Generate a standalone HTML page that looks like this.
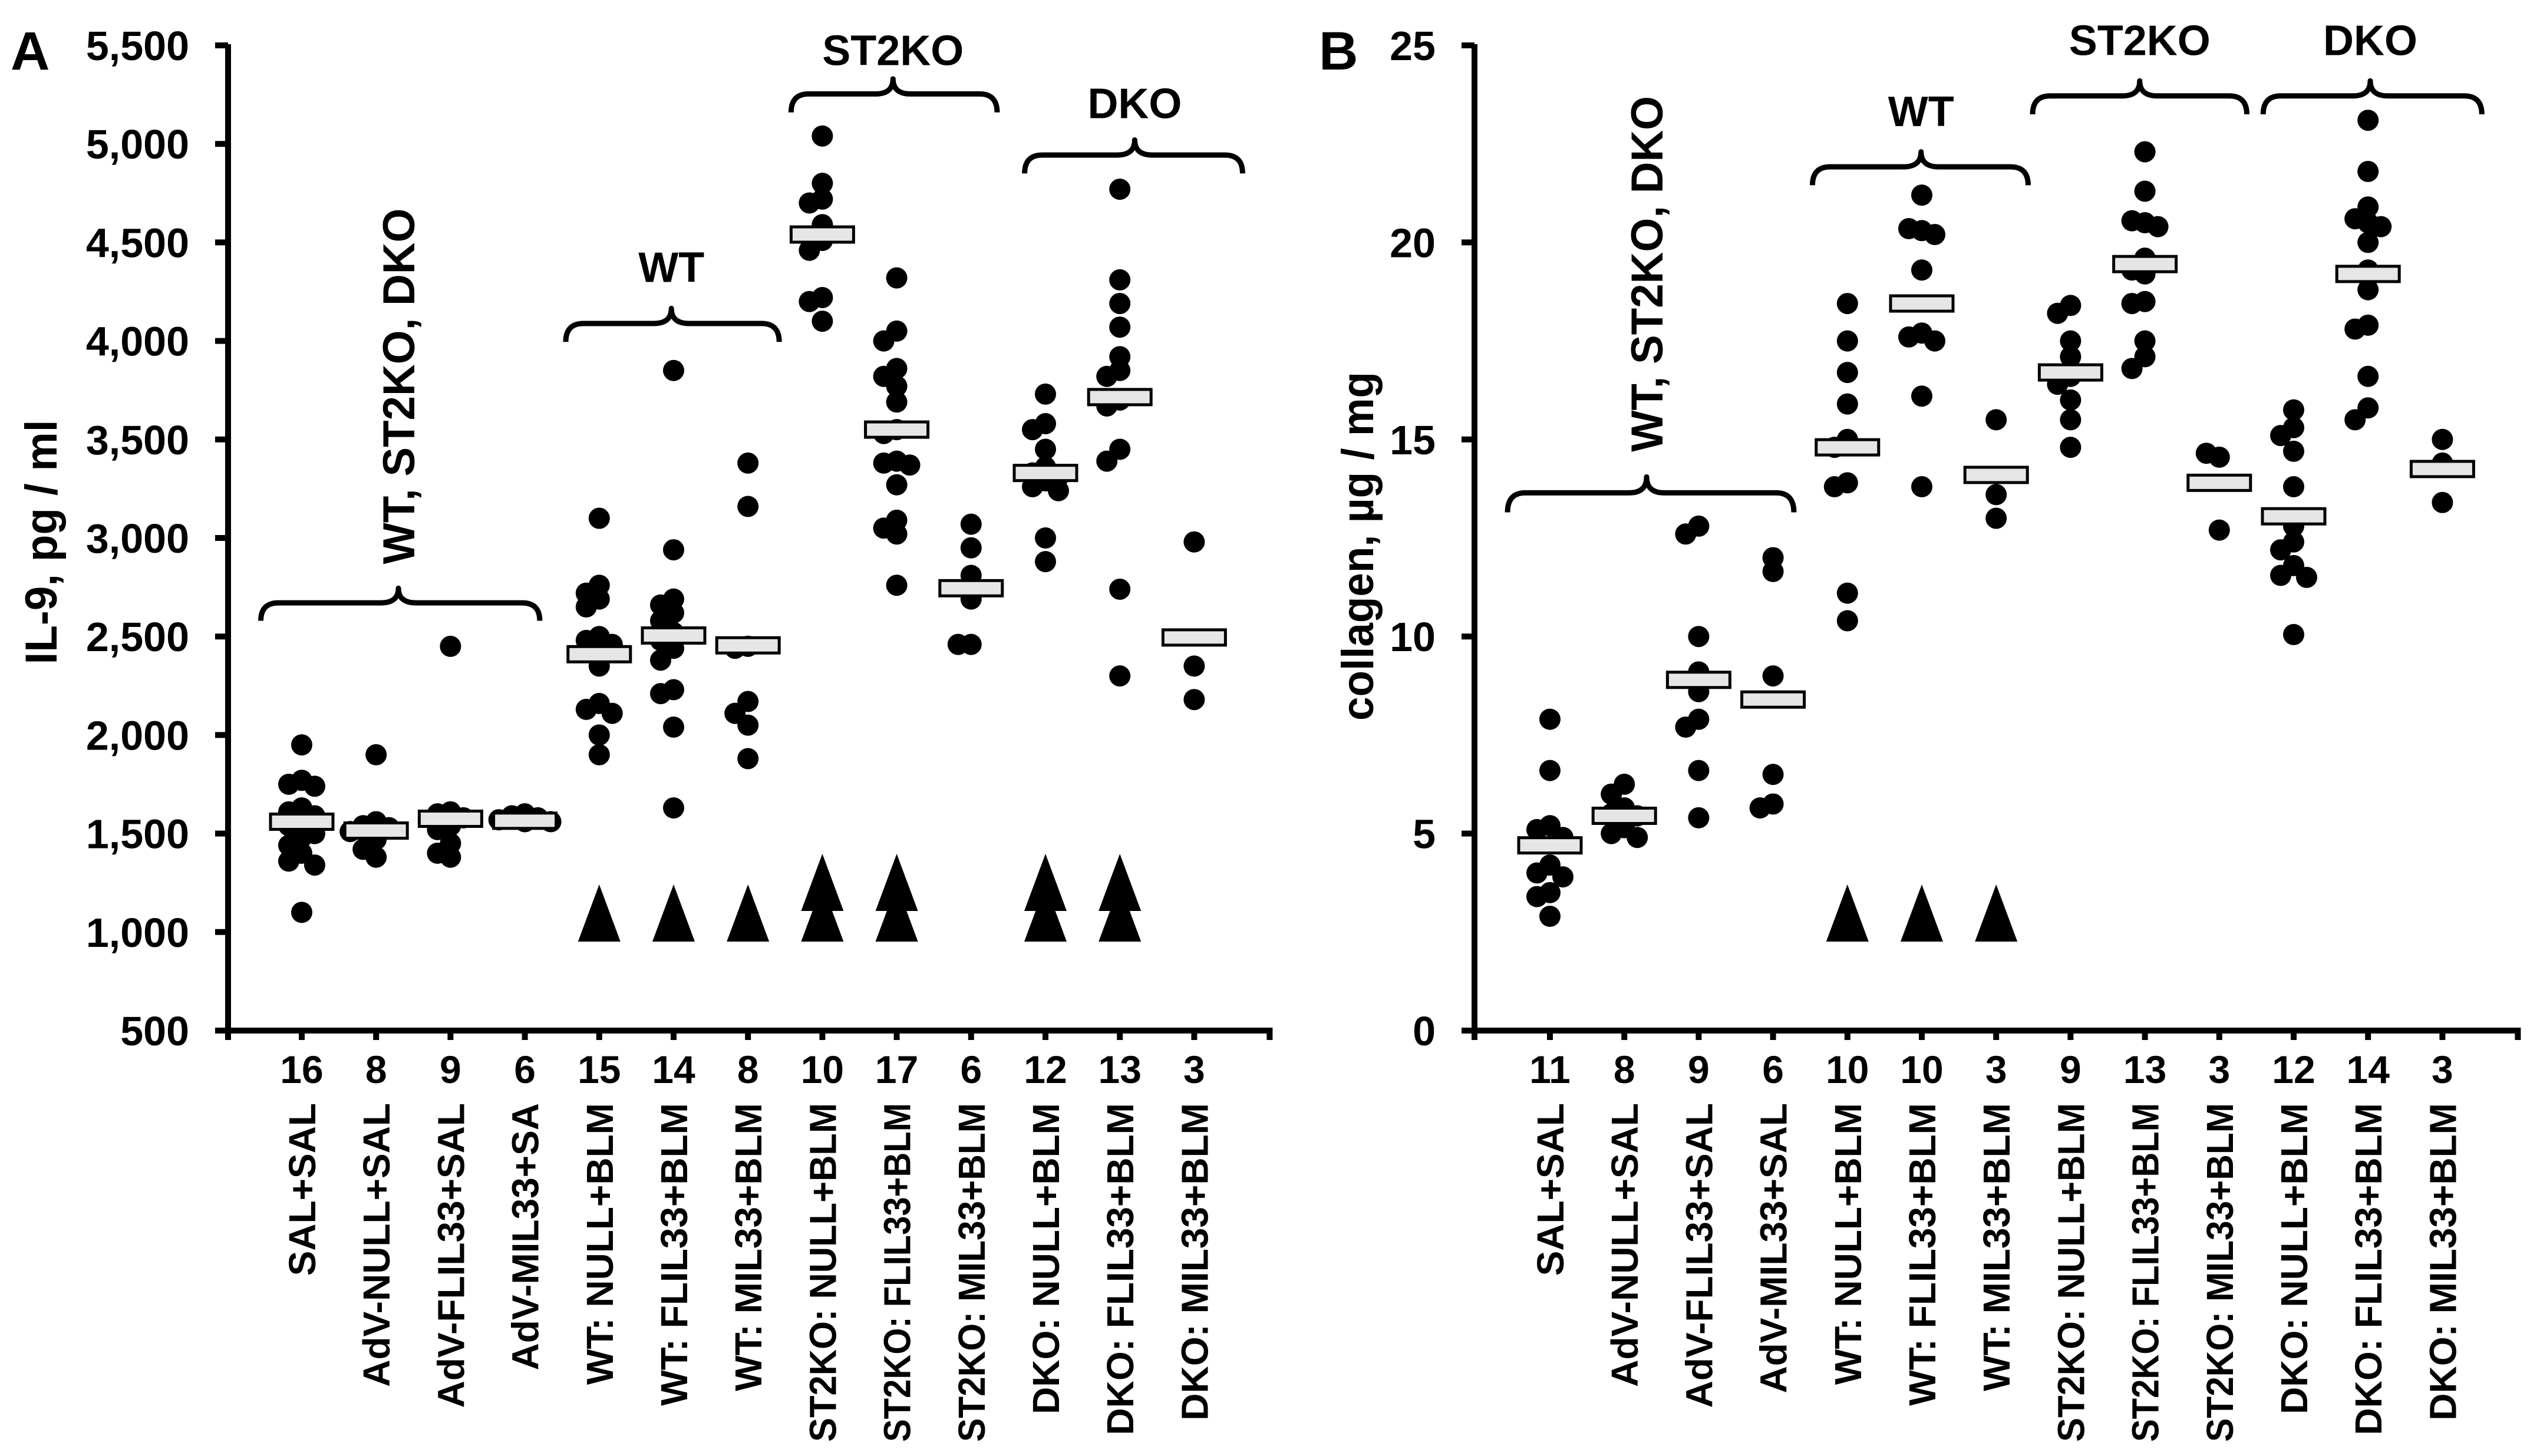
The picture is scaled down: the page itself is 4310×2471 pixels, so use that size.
<!DOCTYPE html>
<html><head><meta charset="utf-8"><style>
html,body{margin:0;padding:0;background:#fff}
svg{display:block;font-family:"Liberation Sans",Arial,sans-serif;font-weight:bold}
</style></head><body>
<svg id="fig" width="4310" height="2471" viewBox="0 0 4310 2471"></svg>
<script>
// ---------- data ----------
const labelsA = ["SAL+SAL","AdV-NULL+SAL","AdV-FLIL33+SAL","AdV-MIL33+SA","WT: NULL+BLM","WT: FLIL33+BLM","WT: MIL33+BLM","ST2KO: NULL+BLM","ST2KO: FLIL33+BLM","ST2KO: MIL33+BLM","DKO: NULL+BLM","DKO: FLIL33+BLM","DKO: MIL33+BLM"];
const labelsB = ["SAL+SAL","AdV-NULL+SAL","AdV-FLIL33+SAL","AdV-MIL33+SAL","WT: NULL+BLM","WT: FLIL33+BLM","WT: MIL33+BLM","ST2KO: NULL+BLM","ST2KO: FLIL33+BLM","ST2KO: MIL33+BLM","DKO: NULL+BLM","DKO: FLIL33+BLM","DKO: MIL33+BLM"];
const countsA = [16,8,9,6,15,14,8,10,17,6,12,13,3];
const countsB = [11,8,9,6,10,10,3,9,13,3,12,14,3];
const ticksA = [500,1000,1500,2000,2500,3000,3500,4000,4500,5000,5500];
const tickLabelsA = ["500","1,000","1,500","2,000","2,500","3,000","3,500","4,000","4,500","5,000","5,500"];
const ticksB = [0,5,10,15,20,25];
const tickLabelsB = ["0","5","10","15","20","25"];
const pointsA = [
 [1950,1770,1750,1740,1630,1610,1590,1560,1540,1500,1480,1440,1400,1360,1340,1100],
 [1900,1560,1540,1530,1510,1470,1420,1380],
 [2450,1610,1600,1580,1540,1520,1450,1400,1380],
 [1600,1590,1580,1570,1560,1560],
 [3100,2760,2720,2690,2650,2500,2480,2460,2420,2350,2160,2130,2110,2000,1900],
 [3850,2940,2690,2660,2620,2580,2520,2480,2440,2380,2230,2210,2040,1630],
 [3380,3160,2450,2440,2170,2110,2050,1880],
 [5040,4800,4720,4700,4590,4510,4460,4220,4200,4100],
 [4320,4050,4000,3860,3820,3770,3690,3550,3530,3390,3380,3370,3270,3090,3050,3020,2760],
 [3070,2950,2810,2690,2460,2460],
 [3730,3580,3550,3450,3360,3330,3310,3290,3260,3240,3000,2880],
 [4770,4310,4190,4070,3920,3850,3820,3700,3670,3450,3390,2740,2300],
 [2980,2350,2180]
];
const meansA = [1560,1515,1575,1565,2410,2505,2455,4540,3550,2745,3330,3715,2495];
const pointsB = [
 [7.9,6.6,5.2,5.1,4.9,4.2,4.0,3.9,3.5,3.4,2.9],
 [6.25,6.0,5.65,5.5,5.45,5.15,5.0,4.9],
 [12.8,12.6,10.0,9.1,8.6,7.9,7.7,6.6,5.4],
 [12.0,11.65,9.0,6.5,5.75,5.65],
 [18.45,17.5,16.7,15.9,15.0,14.8,13.9,13.8,11.1,10.4],
 [21.2,20.3,20.35,20.2,19.3,17.7,17.6,17.5,16.1,13.8],
 [15.5,13.6,13.0],
 [18.4,18.2,17.5,17.1,16.6,16.4,16.0,15.5,14.8],
 [22.3,21.3,20.5,20.55,20.4,19.6,19.3,19.2,18.5,18.45,17.5,17.1,16.8],
 [14.55,14.65,12.7],
 [15.75,15.3,15.1,14.7,13.8,12.8,12.4,12.2,11.8,11.55,11.5,10.05],
 [23.1,21.8,20.9,20.6,20.5,20.4,20.0,19.3,18.8,17.9,17.8,16.6,15.8,15.5],
 [15.0,14.4,13.4]
];
const meansB = [4.7,5.45,8.9,8.4,14.8,18.45,14.1,16.7,19.45,13.9,13.05,19.2,14.25];
const arrowCatsA = [4,5,6,7,8,10,11];
const arrowCountA = [1,1,1,2,2,2,2];
const arrowCatsB = [4,5,6];
const arrowCountB = [1,1,1];

// ---------- drawing ----------
const NS = "http://www.w3.org/2000/svg";
const svg = document.getElementById('fig');
function el(tag, attrs, parent, text){
  const e = document.createElementNS(NS, tag);
  for (const k in attrs) e.setAttribute(k, attrs[k]);
  if (text !== undefined) e.textContent = text;
  (parent||svg).appendChild(e);
  return e;
}
function fitLen(t, L){
  t.setAttribute('textLength', L);
  t.setAttribute('lengthAdjust','spacingAndGlyphs');
}

function panel(cfg){
  const g = el('g', {});
  
  
  const y0 = 1749, y1 = 77;
  const yS = v => y0 - (v - cfg.min) / (cfg.max - cfg.min) * (y0 - y1);
  const xS = i => cfg.x0 + i * 126.2;
  const axisRight = xS(12) + 128;
  const ax = el('path', {d:`M${cfg.axisX} ${y1-2} V${y0} H${axisRight} V${y0+16}`, stroke:'#000','stroke-width':10, fill:'none'}, g);
  
  
  cfg.ticks.forEach((t,i)=>{
    const tk = el('line',{x1:cfg.axisX-22,x2:cfg.axisX,y1:yS(t),y2:yS(t),stroke:'#000','stroke-width':10},g);
    
    
    const tl = el('text',{x:cfg.axisX-66,y:yS(t)+25,'text-anchor':'end','font-size':70},g,cfg.tickLabels[i]);
    
    
  });
  const yx = el('line',{x1:cfg.axisX,x2:cfg.axisX,y1:y0-5,y2:y0+16,stroke:'#000','stroke-width':10},g);
  
  
  cfg.labels.forEach((lab,i)=>{
    const x = xS(i);
    const tk = el('line',{x1:x,x2:x,y1:y0,y2:y0+16,stroke:'#000','stroke-width':10},g);
    
    
    const c = el('text',{x:x,y:1838,'text-anchor':'middle','font-size':66},g,String(cfg.counts[i]));
    
    
    const t = el('text',{x:0,y:0,'text-anchor':'end','font-size':64,transform:`translate(${x+23},1872) rotate(-90)`},g,lab);
    
    
    const L = t.getComputedTextLength();
    if (L > 575) fitLen(t, 575);
  });
  const yt = el('text',{x:0,y:0,'text-anchor':'middle','font-size':76,transform:`translate(${cfg.titleX},${cfg.titleY}) rotate(-90)`},g,cfg.title);
  
  
  fitLen(yt, cfg.titleLen);
  const pl = el('text',{x:cfg.letterX,y:118,'font-size':92},g,cfg.letter);
  
  
  cfg.braces.forEach(b=>{
    const xa = cfg.x0 + b[0]*126.2, xb = cfg.x0 + b[1]*126.2, xt = cfg.x0 + b[2]*126.2;
    const yt2 = yS(b[3]), yb = yS(b[4]), ym = yt2 + (yb-yt2)*0.45;
    const r = 30;
    const d = `M${xa} ${yb} Q${xa} ${ym} ${xa+r} ${ym} H${xt-r} Q${xt} ${ym} ${xt} ${yt2} Q${xt} ${ym} ${xt+r} ${ym} H${xb-r} Q${xb} ${ym} ${xb} ${yb}`;
    const p = el('path',{d, stroke:'#000','stroke-width':9,fill:'none','stroke-linejoin':'round'},g);
    
    
    if (b[6]) {
      const t = el('text',{x:0,y:0,'text-anchor':'middle','font-size':76,transform:`translate(${xt+27},${yS(b[5])}) rotate(-90)`},g,b[7]);
      
      
      fitLen(t, 604);
    } else {
      const t = el('text',{x:xt,y:yS(b[5]),'text-anchor':'middle','font-size':72},g,b[7]);
      
      
    }
  });
  const R = 18;
  cfg.points.forEach((arr,i)=>{
    const cx = xS(i);
    const placed = [];
    arr.forEach(v=>{
      const cy = yS(v);
      const offs = [0,-22,22,-44,44,-64,64];
      let ox = 0;
      for (const o of offs){
        if (placed.every(p=>Math.hypot(p[0]-o,p[1]-cy) >= 22)) { ox = o; break; }
      }
      placed.push([ox,cy]);
      const c = el('circle',{cx:cx+ox,cy:cy,r:R,fill:'#000'},g);
      
      
    });
    const m = el('rect',{x:cx-53,y:yS(cfg.means[i])-13,width:106,height:26,fill:'#e6e6e6',stroke:'#000','stroke-width':5},g);
    
    
  });
  cfg.arrowCats.forEach((ci,k)=>{
    const x = xS(ci);
    const n = cfg.arrowCount[k];
    const base = 1598;
    for (let j=0;j<n;j++){
      const by = base - j*52, ty = by - 97;
      const tr = el('polygon',{points:`${x-36},${by} ${x+36},${by} ${x},${ty}`,fill:'#000'},g);
      
      
    }
  });
}

panel({name:'panel-a-il9', letter:'A', letterX:18, min:500, max:5500, axisX:387, x0:512,
  ticks:ticksA, tickLabels:tickLabelsA, labels:labelsA, counts:countsA,
  points:pointsA, means:meansA, arrowCats:arrowCatsA, arrowCount:arrowCountA,
  title:'IL-9, pg / ml', titleX:96, titleY:920, titleLen:415,
  braces:[
    [-0.55,3.2,1.3,2745,2580,3770,true,'WT, ST2KO, DKO'],
    [3.55,6.42,4.97,4165,3995,4300,false,'WT'],
    [6.58,9.35,7.95,5330,5160,5400,false,'ST2KO'],
    [9.72,12.65,11.2,5020,4850,5130,false,'DKO']
  ]});
panel({name:'panel-b-collagen', letter:'B', letterX:2238, min:0, max:25, axisX:2502, x0:2630,
  ticks:ticksB, tickLabels:tickLabelsB, labels:labelsB, counts:countsB,
  points:pointsB, means:meansB, arrowCats:arrowCatsB, arrowCount:arrowCountB,
  title:'collagen, µg / mg', titleX:2330, titleY:927, titleLen:592,
  braces:[
    [-0.57,3.28,1.3,14.05,13.15,19.2,true,'WT, ST2KO, DKO'],
    [3.53,6.43,4.99,22.3,21.45,22.95,false,'WT'],
    [6.49,9.37,7.93,24.1,23.25,24.75,false,'ST2KO'],
    [9.59,12.53,11.03,24.1,23.25,24.75,false,'DKO']
  ]});
</script>
</body></html>
